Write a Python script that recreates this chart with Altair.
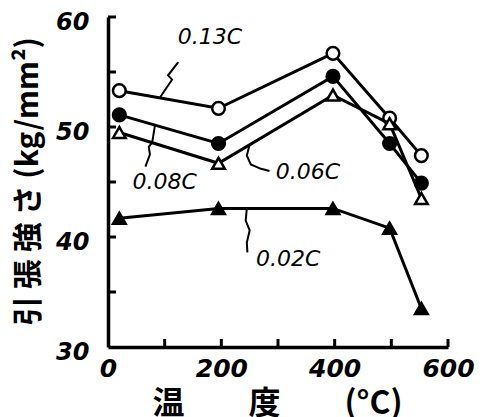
import altair as alt
import pandas as pd

# ---- data ----
temps = [20, 195, 397, 497, 553]
c013 = [53.3, 51.7, 56.7, 50.8, 47.4]
c008 = [51.1, 48.5, 54.6, 48.5, 44.9]
c006 = [49.5, 46.7, 52.9, 50.3, 43.5]
c002 = [41.7, 42.6, 42.6, 40.8, 33.5]

series_names = ["0.13C", "0.08C", "0.06C", "0.02C"]
series_vals = [c013, c008, c006, c002]
series_shape = ["circle", "circle", "triangle-up", "triangle-up"]
series_filled = [False, True, False, True]

# label positions (data units)
label_x = [180, 100, 353, 318]
label_y = [58.2, 45.0, 45.9, 38.0]

# leader squiggles (data units)
lead_013_x = [92, 113, 106, 124]
lead_013_y = [52.7, 54.3, 54.7, 55.9]
lead_008_x = [83, 78, 72, 74, 66]
lead_008_y = [50.2, 48.6, 48.2, 47.5, 46.4]
lead_006_x = [250, 245, 252, 270, 285]
lead_006_y = [48.4, 47.4, 46.6, 46.2, 46.0]
lead_002_x = [245, 243, 250, 245, 246]
lead_002_y = [42.6, 41.5, 40.6, 39.5, 38.6]

y_ticks = [35, 40, 45, 50, 55, 60]
x_ticks = [100, 200, 300, 400, 500, 600]

xscale = alt.Scale(domain=[0, 600], nice=False, zero=False)
yscale = alt.Scale(domain=[30, 60], nice=False, zero=False)

num_font = "DejaVu Sans"
cjk_font = "Noto Sans CJK JP"

X = alt.X(
    "t:Q",
    scale=xscale,
    axis=alt.Axis(
        values=[0, 200, 400, 600],
        ticks=False,
        grid=False,
        domainWidth=3.5,
        domainColor="black",
        labelFont=num_font,
        labelFontSize=25,
        labelFontStyle="italic",
        labelFontWeight="bold",
        labelColor="black",
        labelPadding=9,
        labelFlush=False,
        title="温　　度　　(°C)",
        titleFont=cjk_font,
        titleFontSize=32,
        titleFontWeight="bold",
        titleColor="black",
        titleBaseline="top",
        titleY=41,
        titleX=169,
    ),
)
Y = alt.Y(
    "v:Q",
    scale=yscale,
    axis=alt.Axis(
        values=[30, 40, 50, 60],
        ticks=False,
        grid=False,
        domainWidth=3.5,
        domainColor="black",
        labelFont=num_font,
        labelFontSize=24,
        labelFontStyle="italic",
        labelFontWeight="bold",
        labelColor="black",
        labelPadding=19,
        labelOffset=5,
        labelFlush=False,
        title="引 張 強 さ (kg/mm²)",
        titleFont=cjk_font,
        titleFontSize=30,
        titleFontWeight="bold",
        titleColor="black",
        titleAngle=270,
        titleAlign="center",
        titleBaseline="middle",
        titleX=-80,
        titleY=164,
    ),
)

layers = []
for name, vals, shp, fil in zip(series_names, series_vals, series_shape, series_filled):
    df = pd.DataFrame({"t": temps, "v": vals})
    layers.append(
        alt.Chart(df).mark_line(color="black", strokeWidth=3).encode(x=X, y=Y)
    )
    layers.append(
        alt.Chart(df)
        .mark_point(
            shape=shp,
            filled=True,
            fill="black" if fil else "white",
            stroke="black",
            strokeWidth=2.5,
            size=160,
            opacity=1,
        )
        .encode(x=X, y=Y)
    )

# leader lines
for lx, ly in [(lead_013_x, lead_013_y), (lead_008_x, lead_008_y),
               (lead_006_x, lead_006_y), (lead_002_x, lead_002_y)]:
    df = pd.DataFrame({"t": lx, "v": ly, "o": list(range(len(lx)))})
    layers.append(
        alt.Chart(df)
        .mark_line(color="black", strokeWidth=2, interpolate="linear")
        .encode(x=X, y=Y, order="o:O")
    )

# series labels
lab_df = pd.DataFrame({"t": label_x, "v": label_y, "name": series_names})
layers.append(
    alt.Chart(lab_df)
    .mark_text(
        font=num_font,
        fontSize=22,
        fontStyle="italic",
        color="black",
        align="center",
        baseline="middle",
    )
    .encode(x=X, y=Y, text="name:N")
)

# inward tick marks
ytk = pd.DataFrame({"v": y_ticks})
layers.append(
    alt.Chart(ytk)
    .mark_rule(color="black", strokeWidth=3)
    .encode(y=alt.Y("v:Q", scale=yscale), x=alt.value(0), x2=alt.value(8))
)
xtk = pd.DataFrame({"t": x_ticks})
layers.append(
    alt.Chart(xtk)
    .mark_rule(color="black", strokeWidth=3)
    .encode(x=alt.X("t:Q", scale=xscale), y=alt.value(330), y2=alt.value(322))
)

chart = (
    alt.layer(*layers)
    .properties(
        width=340,
        height=330,
        autosize=alt.AutoSizeParams(type="none"),
        padding={"left": 100, "top": 9, "right": 30, "bottom": 72},
        background="white",
    )
    .configure_view(stroke=None)
)

chart.save("out.html", embed_options={"renderer": "svg", "actions": False})
